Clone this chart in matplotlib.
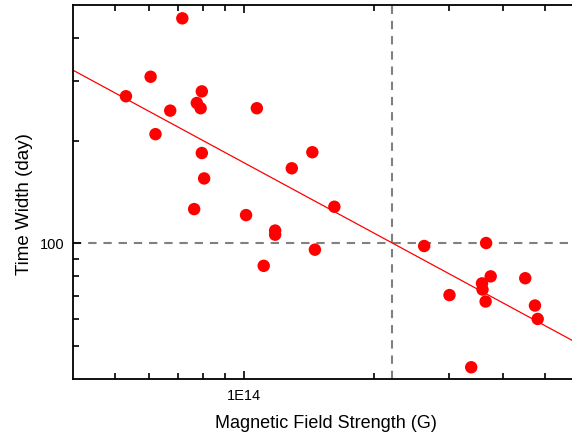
import numpy as np
import matplotlib
matplotlib.use('Agg')
import matplotlib.pyplot as plt
from matplotlib.ticker import FixedLocator, FixedFormatter, NullFormatter

plt.rcParams['font.family'] = ['Liberation Sans', 'DejaVu Sans']

# magnetic field strength (G) and time width (day) for each source
field = np.array([7.18e13, 6.06e13, 5.31e13, 7.97e13, 7.76e13, 7.92e13, 6.73e13, 1.07e14,
                  6.22e13, 7.97e13, 1.44e14, 1.29e14, 8.07e13, 7.65e13, 1.62e14, 1.01e14,
                  1.18e14, 1.18e14, 1.46e14, 1.11e14, 2.62e14, 3.65e14, 3.74e14, 4.50e14,
                  3.57e14, 3.58e14, 3.00e14, 3.64e14, 4.74e14, 4.81e14, 3.37e14])
width = np.array([457, 308, 270, 279, 258, 249, 245, 249,
                  209, 184, 185, 166, 155, 126, 128, 121,
                  109, 106, 95.8, 85.9, 98.2, 100.2, 80.0, 79.0,
                  76.3, 73.2, 70.5, 67.5, 65.7, 60.0, 43.3])

# power-law fit: log10(T) = intercept + slope * log10(B)
fit_slope = -0.683
fit_intercept = 11.798

b_cross = 2.2e14
t_cross = 100

fig = plt.figure(figsize=(5.72, 4.4), dpi=100)
ax = fig.add_axes([73/572, 61/440, 506/572, 374/440])
ax.set_xscale('log')
ax.set_yscale('log')
ax.set_xlim(4e13, 6e14)
ax.set_ylim(40, 500)

bx = np.array([4e13, 6e14])
ax.plot(bx, 10 ** (fit_intercept + fit_slope * np.log10(bx)), color='red', lw=0.9, zorder=2)
ax.axvline(b_cross, color='#808080', lw=1.5, ls=(0, (4, 3.3)), zorder=1)
ax.axhline(t_cross, color='#808080', lw=1.5, ls=(0, (4, 3.3)), zorder=1)
ax.scatter(field, width, s=80, color='red', edgecolors='none', zorder=3)

ax.xaxis.set_major_locator(FixedLocator([1e14]))
ax.xaxis.set_major_formatter(FixedFormatter(['1E14']))
ax.xaxis.set_minor_locator(FixedLocator([5e13, 6e13, 7e13, 8e13, 9e13, 2e14, 3e14, 4e14, 5e14]))
ax.xaxis.set_minor_formatter(NullFormatter())
ax.yaxis.set_major_locator(FixedLocator([100]))
ax.yaxis.set_major_formatter(FixedFormatter(['100']))
ax.yaxis.set_minor_locator(FixedLocator([50, 60, 70, 80, 90, 200, 300, 400]))
ax.yaxis.set_minor_formatter(NullFormatter())

ax.tick_params(which='both', direction='in', top=True, right=False, width=1.2, labelsize=10.5)
ax.tick_params(axis='x', pad=7)
ax.tick_params(axis='y', pad=6)
ax.tick_params(which='major', length=6)
ax.tick_params(which='minor', length=4)

for side in ['left', 'bottom', 'top']:
    ax.spines[side].set_linewidth(1.3)
ax.spines['right'].set_visible(False)

ax.set_xlabel('Magnetic Field Strength (G)', fontsize=13, labelpad=9)
ax.set_ylabel('Time Width (day)', fontsize=13.5)
ax.yaxis.set_label_coords(-0.079, 0.468)

fig.savefig('out.png', dpi=100)
